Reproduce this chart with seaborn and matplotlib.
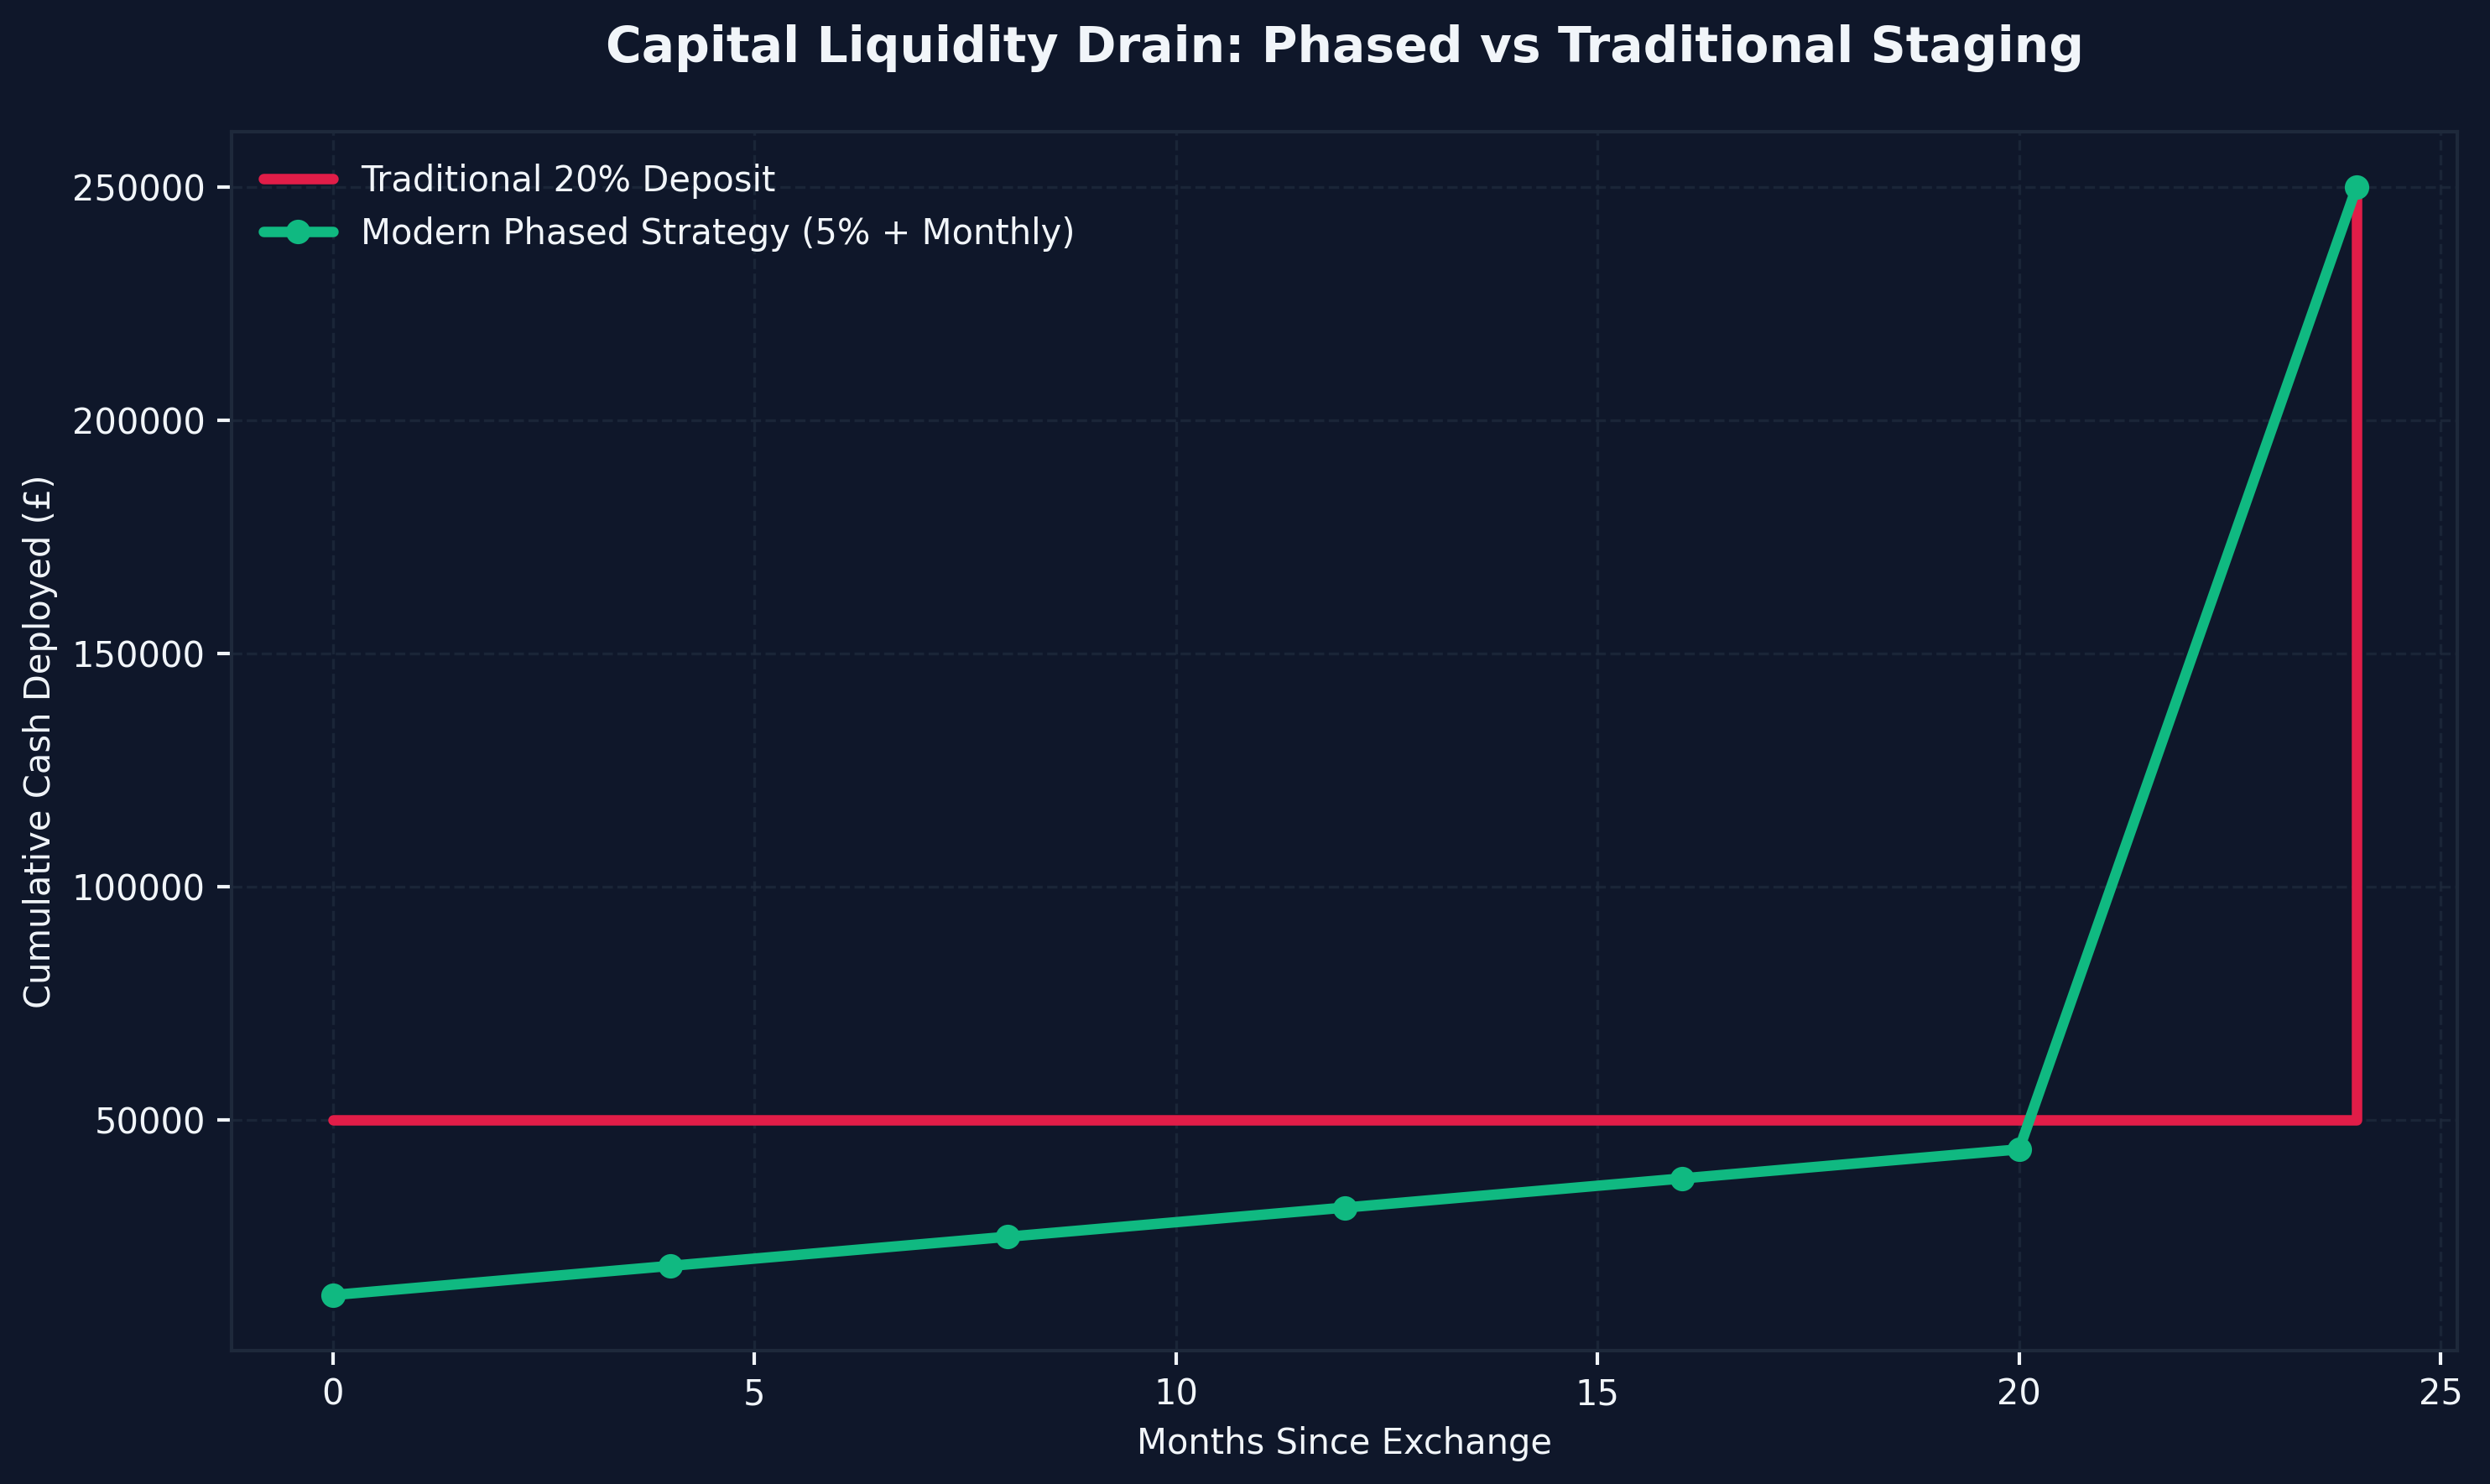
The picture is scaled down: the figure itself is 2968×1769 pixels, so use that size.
import pandas as pd
import matplotlib.pyplot as plt
import seaborn as sns

# months since exchange (quarter-ish checkpoints)
months = [0, 4, 8, 12, 16, 20, 24]
traditional = [50000, 50000, 50000, 50000, 50000, 50000, 250000]
phased = [12500, 18750, 25000, 31250, 37500, 43750, 250000]

BG = '#0f172a'
GRID = '#1e293b'
TEXT = '#f1f5f9'
RED = '#e11d48'
GREEN = '#10b981'

df = pd.DataFrame({'month': months, 'traditional': traditional, 'phased': phased})

sns.set_style('dark')
plt.rcParams['font.family'] = ['DejaVu Sans']
plt.rcParams['font.size'] = 10

fig, ax = plt.subplots(figsize=(2968 / 300, 1769 / 300), dpi=300)
fig.patch.set_facecolor(BG)
ax.set_facecolor(BG)

sns.lineplot(x='month', y='traditional', data=df, ax=ax, color=RED, linewidth=3,
             drawstyle='steps-post', label='Traditional 20% Deposit')
sns.lineplot(x='month', y='phased', data=df, ax=ax, color=GREEN, linewidth=3,
             marker='o', markersize=7, markeredgewidth=0,
             label='Modern Phased Strategy (5% + Monthly)')

ax.set_title('Capital Liquidity Drain: Phased vs Traditional Staging',
             fontsize=14, fontweight='bold', color=TEXT, pad=20)
ax.set_xlabel('Months Since Exchange', fontsize=10, color=TEXT)
ax.set_ylabel('Cumulative Cash Deployed (£)', fontsize=10, color=TEXT)
ax.tick_params(colors=TEXT, labelsize=10, length=4, width=1, left=True, bottom=True)
ax.grid(True, color=GRID, linestyle='--', linewidth=0.8, alpha=0.8)
for s in ax.spines.values():
    s.set_color(GRID)
    s.set_linewidth(1)

leg = ax.legend(loc='upper left', frameon=False, fontsize=10)
for t in leg.get_texts():
    t.set_color(TEXT)

plt.subplots_adjust(left=0.093, right=0.987, top=0.911, bottom=0.090)
plt.savefig('out.png', dpi=300, facecolor=BG)
plt.close()
